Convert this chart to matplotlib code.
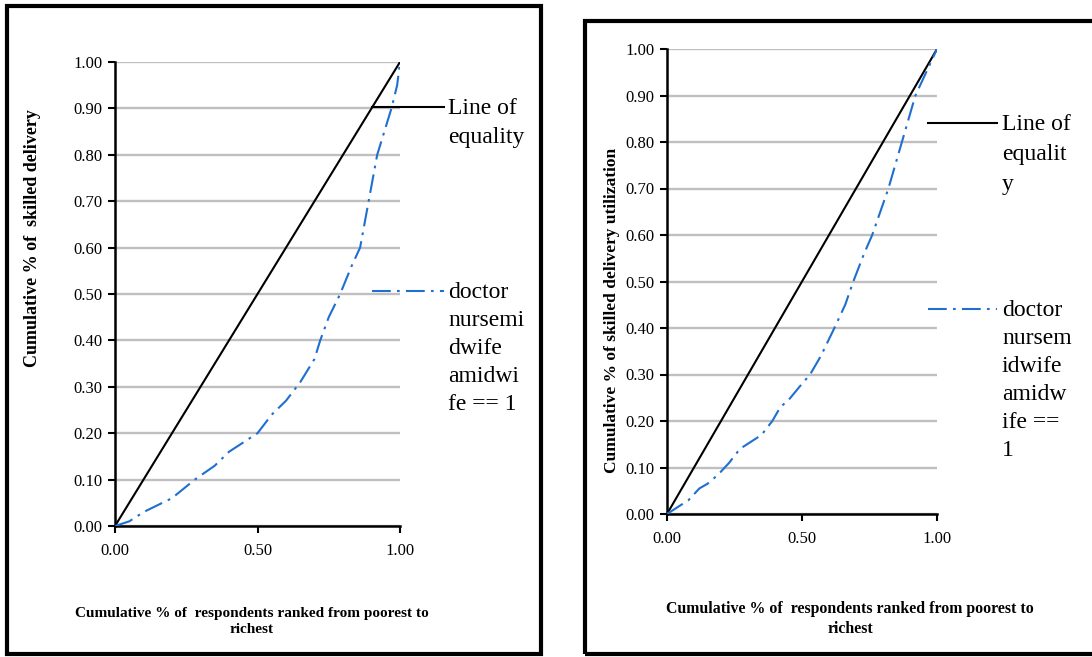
import numpy as np
from matplotlib import pyplot as plt
from matplotlib.patches import Rectangle
from matplotlib.lines import Line2D

plt.rcParams['font.family'] = ['Liberation Serif', 'DejaVu Serif']

# concentration curves
left_x = [0, 0.05, 0.10, 0.15, 0.20, 0.25, 0.28, 0.35, 0.40, 0.45, 0.50, 0.55, 0.60,
          0.65, 0.70, 0.72, 0.75, 0.79, 0.83, 0.86, 0.89, 0.92, 0.95, 0.97, 0.99, 1.0]
left_y = [0, 0.01, 0.03, 0.045, 0.06, 0.085, 0.10, 0.13, 0.16, 0.18, 0.20, 0.24, 0.27,
          0.31, 0.36, 0.40, 0.45, 0.50, 0.56, 0.60, 0.70, 0.80, 0.86, 0.90, 0.95, 1.0]

right_x = [0, 0.04, 0.08, 0.12, 0.15, 0.19, 0.23, 0.27, 0.31, 0.35, 0.39, 0.42, 0.45,
           0.50, 0.53, 0.57, 0.62, 0.66, 0.69, 0.73, 0.76, 0.82, 0.87, 0.92, 0.96, 1.0]
right_y = [0, 0.015, 0.03, 0.055, 0.065, 0.085, 0.11, 0.14, 0.155, 0.17, 0.20, 0.23, 0.245,
           0.28, 0.30, 0.34, 0.40, 0.45, 0.50, 0.56, 0.60, 0.70, 0.80, 0.90, 0.95, 1.0]

equality = [0, 1]
y_ticks = [0.0, 0.1, 0.2, 0.3, 0.4, 0.5, 0.6, 0.7, 0.8, 0.9, 1.0]
x_ticks = [0.0, 0.5, 1.0]

left_ylabel = "Cumulative % of  skilled delivery"
right_ylabel = "Cumulative % of skilled delivery utilization"
xlabel = "Cumulative % of  respondents ranked from poorest to\nrichest"
left_legend = ["Line of\nequality", "doctor\nnursemi\ndwife\namidwi\nfe == 1"]
right_legend = ["Line of\nequalit\ny", "doctor\nnursem\nidwife\namidw\nife ==\n1"]

W, H = 1092, 657
BLUE = '#1f6fd0'
DASHDOT = (0, (9, 3, 1.3, 3))

fig = plt.figure(figsize=(W / 100, H / 100), dpi=100)


def fx(px):
    return px / W


def fy(py):
    return 1 - py / H


def frame(x0, y0, x1, y1):
    fig.patches.append(Rectangle((fx(x0), fy(y1)), fx(x1) - fx(x0), fy(y0) - fy(y1),
                                 transform=fig.transFigure, fill=False,
                                 edgecolor='black', linewidth=3, zorder=0))


def stacked_text(x, y, text, step):
    # one line at a time so the spacing follows the original layout
    for i, line in enumerate(text.split('\n')):
        fig.text(fx(x), fy(y + i * step + 7), line, fontsize=17,
                 ha='left', va='baseline')


def panel(box, xs, ys, ylabel, legend, leg, ylab, ylab_size, xlab):
    x0, y0, x1, y1 = box
    ax = fig.add_axes([fx(x0), fy(y1), fx(x1) - fx(x0), fy(y0) - fy(y1)])
    for t in y_ticks:
        ax.axhline(t, color='#bfbfbf', linewidth=1.7, zorder=1)
    ax.plot(equality, equality, color='black', linewidth=1.5, zorder=3)
    ax.plot(xs, ys, color=BLUE, linewidth=1.5, linestyle=DASHDOT, zorder=3)
    ax.set_xlim(0, 1)
    ax.set_ylim(0, 1)
    ax.set_xticks(x_ticks)
    ax.set_yticks(y_ticks)
    ax.set_xticklabels(["%.2f" % t for t in x_ticks])
    ax.set_yticklabels(["%.2f" % t for t in y_ticks])
    ax.tick_params(direction='out', length=5, width=1.5, labelsize=12, pad=4)
    ax.tick_params(axis='x', pad=7)
    for s in ['top', 'right']:
        ax.spines[s].set_visible(False)
    for s in ['left', 'bottom']:
        ax.spines[s].set_linewidth(1.8)
    ax.patch.set_alpha(0)

    fig.text(fx(ylab[0]), fy(ylab[1]), ylabel, fontsize=ylab_size, fontweight='bold',
             rotation=90, ha='center', va='center')

    # hand-placed legend to the right of the plot
    lx0, lx1, tx, ly1, ly2, s1, s2 = leg
    fig.add_artist(Line2D([fx(lx0), fx(lx1)], [fy(ly1), fy(ly1)], color='black',
                          linewidth=1.5, transform=fig.transFigure))
    fig.add_artist(Line2D([fx(lx0), fx(lx1)], [fy(ly2), fy(ly2)], color=BLUE,
                          linewidth=1.5, linestyle=DASHDOT, transform=fig.transFigure))
    stacked_text(tx, ly1, legend[0], s1)
    stacked_text(tx, ly2, legend[1], s2)

    fig.text(fx(xlab[0]), fy(xlab[1]), xlabel, fontsize=xlab[2], fontweight='bold',
             ha='center', va='top', linespacing=1.3)
    return ax


frame(7, 6, 541, 654)
frame(585, 21, 1096, 654)

panel((115, 62, 400, 526), left_x, left_y, left_ylabel, left_legend,
      (372, 444, 448, 107, 291, 29, 28), (33, 238), 13, (252, 607, 11))
panel((667, 49, 937, 514), right_x, right_y, right_ylabel, right_legend,
      (928, 997, 1002, 123, 309, 30, 28), (612, 310), 12.5, (850, 601, 11.4))

plt.savefig('out.png', dpi=100)
